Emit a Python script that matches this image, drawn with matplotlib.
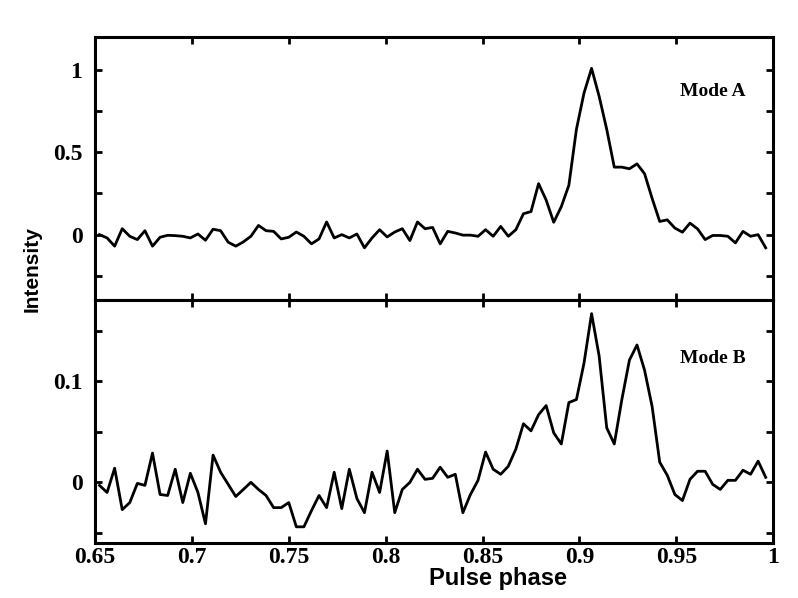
import matplotlib
matplotlib.use('Agg')
import matplotlib.pyplot as plt
from matplotlib.ticker import MultipleLocator, FormatStrFormatter
import numpy as np

# phase bins (1/256 of a period)
phase = np.arange(167, 256) / 256

mode_a = [0.00, -0.02, -0.07, 0.036, -0.01, -0.03, 0.024, -0.07, -0.016, -0.004,
          -0.006, -0.01, -0.02, 0.004, -0.034, 0.033, 0.024, -0.046, -0.07, -0.044,
          -0.01, 0.056, 0.024, 0.02, -0.026, -0.016, 0.016, -0.01, -0.056, -0.026,
          0.077, -0.02, 0.00, -0.02, 0.004, -0.08, -0.02, 0.03, -0.014, 0.016,
          0.036, -0.036, 0.077, 0.036, 0.044, -0.056, 0.02, 0.01, -0.003, -0.003,
          -0.01, 0.03, -0.01, 0.05, -0.01, 0.03, 0.127, 0.14, 0.31, 0.21,
          0.075, 0.17, 0.30, 0.64, 0.86, 1.01, 0.84, 0.64, 0.41, 0.41,
          0.40, 0.43, 0.37, 0.22, 0.08, 0.09, 0.04, 0.015, 0.07, 0.035,
          -0.03, -0.005, -0.005, -0.01, -0.05, 0.02, -0.01, 0.00, -0.08]

mode_b = [-0.003, -0.010, 0.014, -0.027, -0.020, -0.001, -0.003, 0.029, -0.012, -0.013,
          0.013, -0.020, 0.009, -0.010, -0.041, 0.027, 0.010, -0.002, -0.014, -0.007,
          0.000, -0.007, -0.013, -0.025, -0.025, -0.020, -0.044, -0.044, -0.028, -0.013,
          -0.025, 0.010, -0.026, 0.013, -0.016, -0.030, 0.010, -0.010, 0.031, -0.030,
          -0.007, 0.000, 0.013, 0.003, 0.004, 0.015, 0.005, 0.008, -0.030, -0.012,
          0.002, 0.030, 0.013, 0.008, 0.016, 0.033, 0.058, 0.051, 0.067, 0.076,
          0.049, 0.038, 0.079, 0.082, 0.118, 0.167, 0.125, 0.054, 0.038, 0.082,
          0.121, 0.136, 0.111, 0.075, 0.020, 0.007, -0.012, -0.018, 0.003, 0.011,
          0.011, -0.002, -0.007, 0.002, 0.002, 0.012, 0.008, 0.021, 0.005]

serif = {'family': 'Liberation Serif', 'weight': 'bold'}
sans = {'family': 'Liberation Sans', 'weight': 'bold'}

fig = plt.figure(figsize=(7.98, 5.98), dpi=100)
ax1 = fig.add_axes([0.119, 0.4975, 0.85, 0.4405])
ax2 = fig.add_axes([0.119, 0.092, 0.85, 0.4055])

ax1.plot(phase, mode_a, color='black', lw=2)
ax2.plot(phase, mode_b, color='black', lw=2)

ax1.set_ylim(-0.4, 1.2)
ax1.yaxis.set_major_locator(MultipleLocator(0.5))
ax1.yaxis.set_minor_locator(MultipleLocator(0.25))
ax2.set_ylim(-0.06, 0.18)
ax2.yaxis.set_major_locator(MultipleLocator(0.1))
ax2.yaxis.set_minor_locator(MultipleLocator(0.05))

for ax in (ax1, ax2):
    ax.set_xlim(0.65, 1.0)
    ax.xaxis.set_major_locator(MultipleLocator(0.05))
    ax.xaxis.set_major_formatter(FormatStrFormatter('%g'))
    ax.yaxis.set_major_formatter(FormatStrFormatter('%g'))
    ax.tick_params(which='both', direction='in', top=True, right=True,
                   length=5, width=2)
    ax.tick_params(axis='y', pad=9)
    ax.tick_params(axis='x', pad=3)
    for s in ax.spines.values():
        s.set_linewidth(2.2)
    for lab in ax.get_xticklabels() + ax.get_yticklabels():
        lab.set_fontproperties(serif)
        lab.set_fontsize(17)

ax1.tick_params(axis='x', labelbottom=False)

ax1.text(0.969, 0.87, 'Mode A', fontdict=serif, fontsize=14, ha='center', va='center')
ax2.text(0.969, 0.123, 'Mode B', fontdict=serif, fontsize=14, ha='center', va='center')

fig.text(32 / 798, 1 - 269 / 598, 'Intensity', fontdict=sans, fontsize=15,
         rotation=90, ha='center', va='center')
fig.text(498 / 798, 1 - 578 / 598, 'Pulse phase', fontdict=sans, fontsize=17,
         ha='center', va='center')

fig.savefig('out.png', dpi=100)
